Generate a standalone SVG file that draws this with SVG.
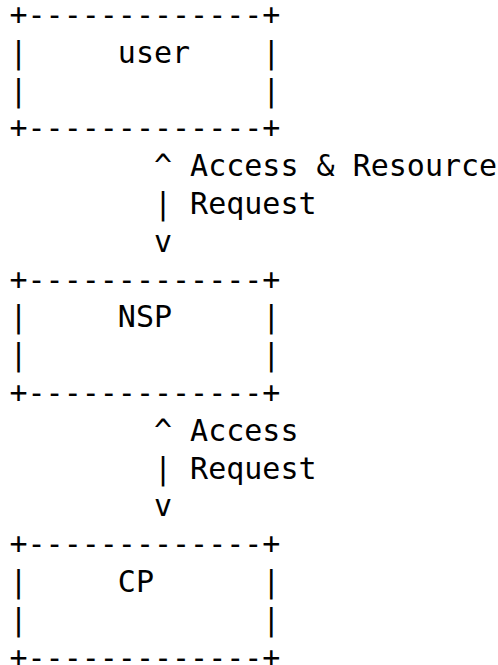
<svg xmlns="http://www.w3.org/2000/svg" width="498" height="665" viewBox="0 0 498 665" xml:space="preserve">
<style>
text { font-family: "DejaVu Sans Mono", "Liberation Mono", monospace; font-size: 30px; fill: #000; white-space: pre; }
</style>
<rect width="498" height="665" fill="#fff"/>
<g id="user">
<text x="9.5" y="25">+-------------+</text>
<text x="9.5" y="62.8">|     user    |</text>
<text x="9.5" y="100.6">|             |</text>
<text x="9.5" y="138.4">+-------------+</text>
</g>
<g id="NSP">
<text x="9.5" y="289.6">+-------------+</text>
<text x="9.5" y="327.4">|     NSP     |</text>
<text x="9.5" y="365.2">|             |</text>
<text x="9.5" y="403">+-------------+</text>
</g>
<g id="CP">
<text x="9.5" y="554.2">+-------------+</text>
<text x="9.5" y="592">|     CP      |</text>
<text x="9.5" y="629.8">|             |</text>
<text x="9.5" y="667.6">+-------------+</text>
</g>
<g id="connectors">
<g id="user-NSP">
<text x="154" y="176.2">^ Access &amp; Resource</text>
<text x="154" y="214">| Request</text>
<text x="154" y="251.8">v</text>
</g>
<g id="NSP-CP">
<text x="154" y="440.8">^ Access</text>
<text x="154" y="478.6">| Request</text>
<text x="154" y="516.4">v</text>
</g>
</g>
</svg>
